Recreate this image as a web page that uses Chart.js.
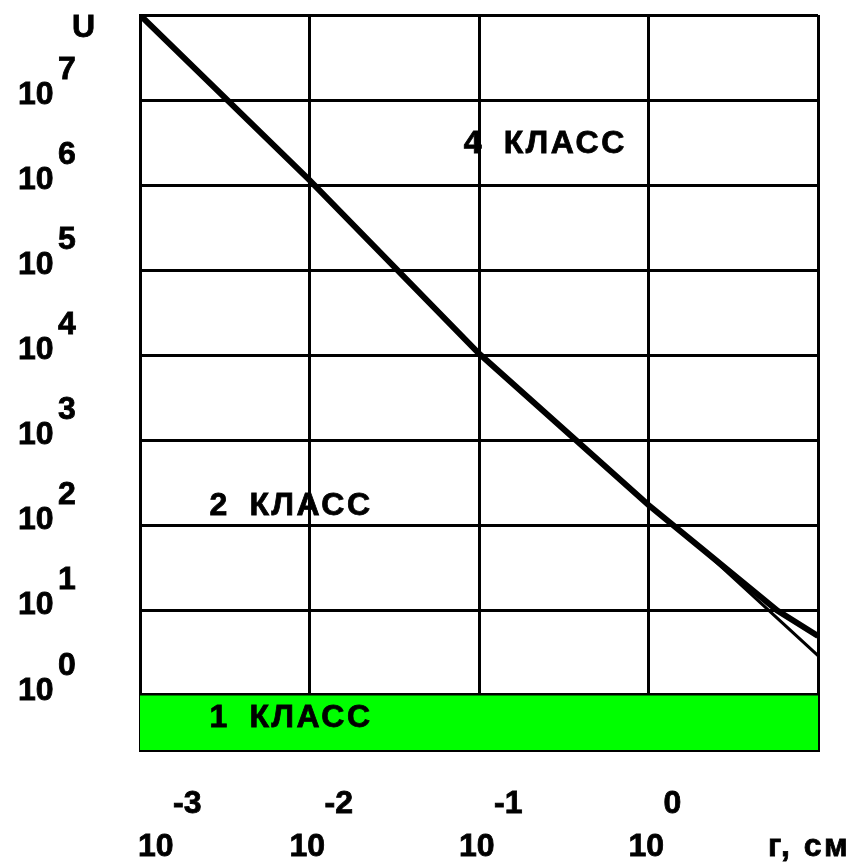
<!DOCTYPE html>
<html>
<head>
<meta charset="utf-8">
<script src="https://cdn.jsdelivr.net/npm/chart.js@4"></script>
<style>
  html, body { margin: 0; padding: 0; background: #fff; }
  #wrap { width: 850px; height: 862px; }
</style>
</head>
<body>
<div id="wrap"><canvas id="myChart" width="850" height="862"></canvas></div>
<script>
// log10(r), log10(U)
const logR      = [-3, -2, -1, 0, 0.3, 0.76, 1];
const logUThick = [8, 6.06, 4.02, 2.24, 1.75, 1.0, 0.7];
const logRThin  = [-3, -2, -1, 0, 0.3, 1];
const logUThin  = [8, 6.06, 4.02, 2.24, 1.75, 0.47];

// ticks
const yExps = [0, 1, 2, 3, 4, 5, 6, 7];
const xExps = [-3, -2, -1, 0];
const xGrid = [-3, -2, -1, 0, 1];
const yGrid = [-0.64, 0, 1, 2, 3, 4, 5, 6, 7, 8];

// class zones (number, word, anchor in log units)
const classNums  = ["4", "2", "1"];
const classWords = ["КЛАСС", "КЛАСС", "КЛАСС"];
const classX     = [-1.09, -2.59, -2.59];
const classY     = [6.38, 2.12, -0.37];

const FONT = "bold 32px 'Liberation Sans', Arial, sans-serif";

function txt(c, s, x, y) {
  c.fillText(s, x, y);
  c.strokeText(s, x, y);
}

const labelsPlugin = {
  id: "labels",
  afterDraw(chart) {
    const c = chart.ctx;
    const xs = chart.scales.x, ys = chart.scales.y;
    const left = chart.chartArea.left;
    c.save();
    c.fillStyle = "#000";
    c.strokeStyle = "#000";
    c.lineWidth = 0.8;
    c.font = FONT;
    c.textAlign = "left";
    c.textBaseline = "alphabetic";

    txt(c, "U", 72, 37);

    // y axis: 10^n
    yExps.forEach(e => {
      const py = ys.getPixelForValue(e);
      txt(c, "10", 18, py + 4);
      txt(c, String(e), 58, py - 21);
    });

    // x axis: exponent above, 10 below
    xExps.forEach(e => {
      const px = xs.getPixelForValue(e);
      const tenLeft = Math.max(px - 20, left - 2);
      txt(c, "10", tenLeft, 856);
      txt(c, String(e), tenLeft + 35, 813);
    });

    if ("letterSpacing" in c) c.letterSpacing = "2.5px";
    txt(c, "г, см", 768, 856);

    // class labels
    classNums.forEach((n, i) => {
      const px = xs.getPixelForValue(classX[i]);
      const py = ys.getPixelForValue(classY[i]);
      txt(c, n, px, py);
      txt(c, classWords[i], px + 40, py);
    });
    c.restore();
  }
};

const ctx = document.getElementById("myChart").getContext("2d");

new Chart(ctx, {
  type: "scatter",
  data: {
    datasets: [
      {
        // 1 класс zone
        data: [{ x: -3, y: 0 }, { x: 1, y: 0 }],
        showLine: true,
        borderWidth: 0,
        pointRadius: 0,
        fill: "start",
        backgroundColor: "#00ff00"
      },
      {
        data: logRThin.map((x, i) => ({ x, y: logUThin[i] })),
        showLine: true,
        borderColor: "#000",
        borderWidth: 3,
        pointRadius: 0,
        tension: 0
      },
      {
        data: logR.map((x, i) => ({ x, y: logUThick[i] })),
        showLine: true,
        borderColor: "#000",
        borderWidth: 6,
        pointRadius: 0,
        tension: 0
      }
    ]
  },
  options: {
    responsive: false,
    animation: false,
    events: [],
    layout: { padding: { left: 140, right: 32, top: 15, bottom: 112 } },
    plugins: {
      legend: { display: false },
      tooltip: { enabled: false }
    },
    scales: {
      x: {
        type: "linear",
        min: -3,
        max: 1,
        z: 1,
        afterBuildTicks: s => { s.ticks = xGrid.map(v => ({ value: v })); },
        ticks: { display: false },
        grid: { color: "#000", lineWidth: 3, drawTicks: false },
        border: { display: true, color: "#000", width: 3 }
      },
      y: {
        type: "linear",
        min: -0.64,
        max: 8,
        z: 1,
        afterBuildTicks: s => { s.ticks = yGrid.map(v => ({ value: v })); },
        ticks: { display: false },
        grid: {
          color: "#000",
          drawTicks: false,
          lineWidth: c => (c.tick && c.tick.value === 0 ? 6 : 3)
        },
        border: { display: true, color: "#000", width: 3 }
      }
    }
  },
  plugins: [labelsPlugin]
});
</script>
</body>
</html>
